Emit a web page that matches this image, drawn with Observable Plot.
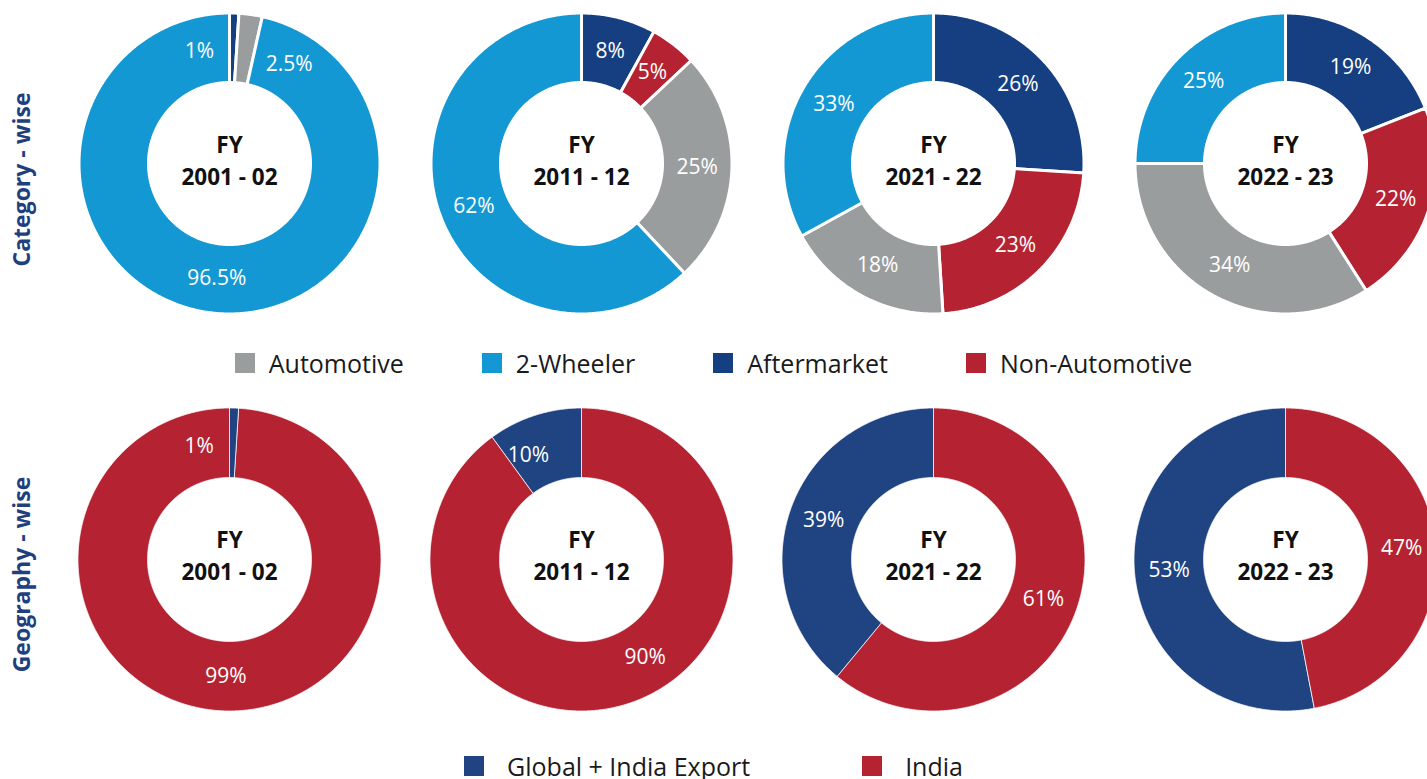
<!DOCTYPE html>
<html><head><meta charset="utf-8">
<script src="https://cdn.jsdelivr.net/npm/d3@7"></script>
<script src="https://cdn.jsdelivr.net/npm/@observablehq/plot@0.6"></script>
<style>
html,body{margin:0;padding:0;background:#fff;overflow:hidden;width:1427px;height:779px;}
body{font-family:"Open Sans",sans-serif;}
#page svg{max-width:none !important;display:block;}
.legend{display:flex;align-items:center;justify-content:center;font-size:25px;color:#1a1a1a;width:1427px;font-family:"Open Sans",sans-serif;}
.legend .item{display:flex;align-items:center;white-space:nowrap;}
.legend .sw{width:20px;height:20px;display:inline-block;}
#legend1{height:73px;} #legend1 .item{margin:0 39px;} #legend1 .sw{margin-right:14px;}
#legend2{height:94px;} #legend2 .item{margin:0 56px;} #legend2 .sw{margin-right:23px;}
</style></head>
<body><div id="page"></div>
<script>
// ---- data ----
const years = ["2001 - 02", "2011 - 12", "2021 - 22", "2022 - 23"];

const categories = ["Automotive", "2-Wheeler", "Aftermarket", "Non-Automotive"];
const categoryColors = ["#9a9d9e", "#1398d4", "#163f81", "#b52332"];
const aftermarketShare = [1, 8, 26, 19];
const nonAutomotiveShare = [0, 5, 23, 22];
const automotiveShare = [2.5, 25, 18, 34];
const twoWheelerShare = [96.5, 62, 33, 25];

const regions = ["Global + India Export", "India"];
const regionColors = ["#1f4481", "#b52332"];
const exportShare = [1, 10, 39, 53];
const indiaShare = [99, 90, 61, 47];
const exportSliceFirst = [true, false, false, false];

// label placement (degrees clockwise from 12 o'clock) where it is not the slice midpoint
const labelAngles = [
  {row: "cat", year: "2001 - 02", name: "Aftermarket", angle: -15},
  {row: "cat", year: "2001 - 02", name: "Automotive", angle: 31},
  {row: "geo", year: "2001 - 02", name: "Global + India Export", angle: -15},
  {row: "geo", year: "2011 - 12", name: "India", angle: 147},
  {row: "geo", year: "2011 - 12", name: "Global + India Export", angle: 333}
];

// ---- slices in clockwise order ----
const catSlices = years.flatMap((y, i) => [
  {year: y, name: "Aftermarket", share: aftermarketShare[i]},
  {year: y, name: "Non-Automotive", share: nonAutomotiveShare[i]},
  {year: y, name: "Automotive", share: automotiveShare[i]},
  {year: y, name: "2-Wheeler", share: twoWheelerShare[i]}
]);
const geoSlices = years.flatMap((y, i) => {
  const e = {year: y, name: "Global + India Export", share: exportShare[i]};
  const n = {year: y, name: "India", share: indiaShare[i]};
  return exportSliceFirst[i] ? [e, n] : [n, e];
});

function ring(slices, r0, r1, row) {
  const pts = [], labels = [];
  for (const y of years) {
    let cum = 0;
    for (const s of slices.filter(d => d.year === y)) {
      if (!(s.share > 0)) continue;
      const a0 = cum / 100 * 2 * Math.PI, a1 = (cum + s.share) / 100 * 2 * Math.PI;
      cum += s.share;
      const n = Math.max(2, Math.ceil((a1 - a0) / (Math.PI / 360)));
      const key = y + "|" + s.name;
      for (let k = 0; k <= n; k++) { const a = a0 + (a1 - a0) * k / n; pts.push({year: y, name: s.name, key, x: r1 * Math.sin(a), y: r1 * Math.cos(a)}); }
      for (let k = n; k >= 0; k--) { const a = a0 + (a1 - a0) * k / n; pts.push({year: y, name: s.name, key, x: r0 * Math.sin(a), y: r0 * Math.cos(a)}); }
      const o = labelAngles.find(d => d.row === row && d.year === y && d.name === s.name);
      const am = o ? o.angle * Math.PI / 180 : (a0 + a1) / 2;
      const rm = (r0 + r1) / 2;
      labels.push({year: y, text: s.share + "%", x: rm * Math.sin(am), y: rm * Math.cos(am)});
    }
  }
  return {pts, labels};
}

function donutRow({slices, row, colorDomain, colorRange, height, r0, r1, strokeWidth, rowLabel, labelDy, centerDy}) {
  const {pts, labels} = ring(slices, r0, r1, row);
  return Plot.plot({
    width: 1461, height,
    marginLeft: 53, marginRight: 0, marginTop: 0, marginBottom: 0,
    fx: {domain: years, padding: 0, axis: null},
    x: {domain: [-176, 176], axis: null},
    y: {domain: [-height / 2, height / 2], axis: null},
    color: {domain: colorDomain, range: colorRange},
    style: {fontFamily: '"Open Sans", sans-serif', background: "white", overflow: "hidden"},
    marks: [
      Plot.line(pts, {fx: "year", x: "x", y: "y", z: "key", fill: "name", stroke: "white", strokeWidth, curve: "linear-closed", strokeLinejoin: "round"}),
      Plot.text(labels, {fx: "year", x: "x", y: "y", text: "text", fill: "white", fontSize: 21}),
      Plot.text(years, {fx: d => d, text: d => "FY\n" + d, frameAnchor: "middle", dy: centerDy, fontSize: 22.5, fontWeight: "bold", lineHeight: 1.45, fill: "#111"}),
      Plot.text([rowLabel], {fx: () => years[0], text: d => d, frameAnchor: "left", dx: -31, dy: labelDy, rotate: -90, textAnchor: "middle", fontSize: 23, fontWeight: "bold", fill: "#1f3f7f"})
    ]
  });
}

function legend(id, names, colors) {
  const div = document.createElement("div");
  div.className = "legend"; div.id = id;
  names.forEach((n, i) => {
    const it = document.createElement("span"); it.className = "item";
    const sw = document.createElement("span"); sw.className = "sw"; sw.style.background = colors[i];
    it.appendChild(sw); it.appendChild(document.createTextNode(n));
    div.appendChild(it);
  });
  return div;
}

const page = document.getElementById("page");
page.appendChild(donutRow({slices: catSlices, row: "cat", colorDomain: categories, colorRange: categoryColors,
  height: 326, r0: 81, r1: 150.5, strokeWidth: 3, rowLabel: "Category - wise", labelDy: 16, centerDy: -5}));
page.appendChild(legend("legend1", categories, categoryColors));
page.appendChild(donutRow({slices: geoSlices, row: "geo", colorDomain: regions, colorRange: regionColors,
  height: 320, r0: 82, r1: 151.5, strokeWidth: 0.75, rowLabel: "Geography - wise", labelDy: 15, centerDy: -6}));
page.appendChild(legend("legend2", regions, regionColors));
</script></body></html>
